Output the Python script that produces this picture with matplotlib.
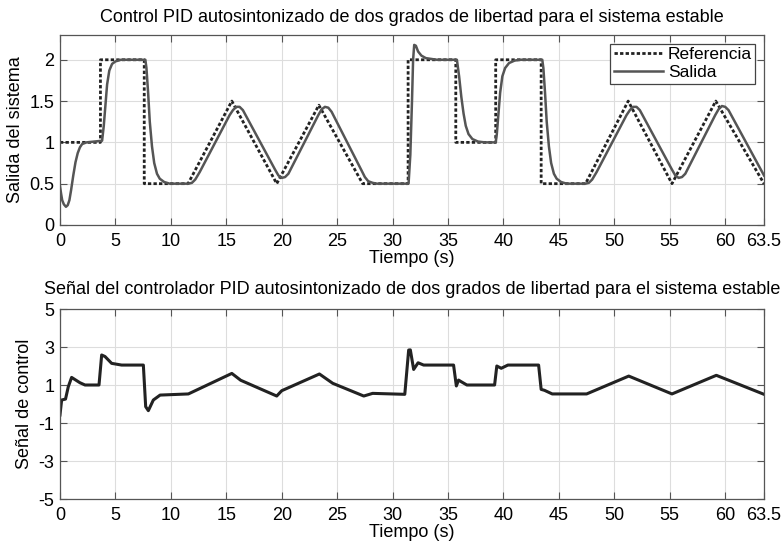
import matplotlib.pyplot as plt

plt.rcParams['font.family'] = ['Liberation Sans', 'DejaVu Sans']
plt.rcParams['axes.unicode_minus'] = False

# referencia (escalones y rampas)
ref_t = [0, 3.65, 3.65, 7.6, 7.6, 11.55, 15.5, 19.55, 23.35, 27.3, 31.4, 31.4,
         35.7, 35.7, 39.3, 39.3, 43.4, 43.4, 47.4, 51.25, 55.2, 59.15, 63.5]
ref_y = [1, 1, 2, 2, 0.5, 0.5, 1.5, 0.5, 1.45, 0.5, 0.5, 2,
         2, 1, 1, 2, 2, 0.5, 0.5, 1.5, 0.5, 1.5, 0.5]

# salida del sistema
out_t = [0, 0.1, 0.2, 0.35, 0.54, 0.7, 0.85, 1.0, 1.2, 1.4, 1.6, 1.8, 2.0, 2.4,
         3.8, 3.95, 4.1, 4.25, 4.45, 4.7, 5.0, 5.5,
         7.7, 7.8, 7.95, 8.1, 8.3, 8.5, 8.75, 9.0, 9.4, 9.9,
         11.6, 11.9, 12.2, 12.6, 15.3, 15.6, 15.9, 16.2, 16.5,
         19.4, 19.7, 20.0, 20.3, 20.6, 23.3, 23.6, 23.9, 24.2, 24.5,
         27.2, 27.5, 27.8, 28.2, 28.6,
         31.4, 31.45, 31.6, 31.75, 31.85, 31.95, 32.1, 32.3, 32.6, 33.0, 33.5, 34.0,
         35.8, 35.85, 36.0, 36.2, 36.4, 36.6, 36.85, 37.2, 37.7, 38.3,
         39.3, 39.4, 39.55, 39.7, 39.9, 40.15, 40.5, 41.0, 41.5,
         43.5, 43.6, 43.75, 43.9, 44.1, 44.3, 44.55, 44.8, 45.2, 45.7,
         47.4, 47.7, 48.0, 48.4, 51.1, 51.4, 51.7, 52.0, 52.3,
         55.2, 55.5, 55.8, 56.1, 56.4, 59.1, 59.4, 59.7, 60.0, 60.3, 63.5]
out_y = [0.47, 0.38, 0.3, 0.25, 0.22, 0.24, 0.3, 0.42, 0.6, 0.76, 0.87, 0.94, 0.98, 1.0,
         1.02, 1.2, 1.45, 1.7, 1.87, 1.95, 1.98, 2.0,
         2.0, 1.9, 1.6, 1.25, 0.95, 0.75, 0.62, 0.56, 0.52, 0.5,
         0.5, 0.51, 0.55, 0.64, 1.33, 1.39, 1.43, 1.43, 1.39,
         0.67, 0.6, 0.57, 0.58, 0.62, 1.33, 1.4, 1.43, 1.42, 1.37,
         0.66, 0.58, 0.53, 0.51, 0.5,
         0.5, 0.52, 0.85, 1.5, 2.0, 2.18, 2.17, 2.1, 2.05, 2.02, 2.01, 2.0,
         2.0, 1.95, 1.8, 1.55, 1.35, 1.2, 1.1, 1.04, 1.01, 1.0,
         1.0, 1.1, 1.35, 1.6, 1.8, 1.9, 1.96, 1.99, 2.0,
         2.0, 1.9, 1.6, 1.25, 0.95, 0.75, 0.62, 0.56, 0.52, 0.5,
         0.5, 0.51, 0.55, 0.64, 1.33, 1.39, 1.43, 1.43, 1.39,
         0.67, 0.6, 0.57, 0.58, 0.62, 1.33, 1.4, 1.44, 1.43, 1.39, 0.6]

# señal de control
u_t = [0, 0.15, 0.5, 0.75, 1.05, 1.8, 2.26, 3.52, 3.76, 4.06, 4.66, 5.56, 7.52,
       7.73, 7.97, 8.42, 9.03, 11.58, 15.5, 16.3, 19.55, 20.0, 23.4, 24.6, 27.4,
       28.2, 31.1, 31.45, 31.6, 31.9, 32.3, 32.8, 35.5, 35.75, 35.95, 36.2, 36.7,
       39.2, 39.4, 39.8, 40.4, 43.17, 43.4, 43.7, 44.4, 47.5, 51.3, 55.2, 59.2, 63.5]
u_y = [-0.58, 0.21, 0.26, 0.91, 1.4, 1.12, 1.0, 1.0, 2.58, 2.5, 2.14, 2.05, 2.05,
       -0.14, -0.35, 0.21, 0.47, 0.53, 1.61, 1.25, 0.42, 0.7, 1.58, 1.09, 0.42,
       0.56, 0.51, 2.84, 2.85, 1.82, 2.17, 2.05, 2.05, 0.95, 1.26, 1.17, 1.0,
       1.0, 2.0, 1.88, 2.05, 2.05, 0.77, 0.72, 0.53, 0.53, 1.47, 0.53, 1.51, 0.51]

xticks = [0, 5, 10, 15, 20, 25, 30, 35, 40, 45, 50, 55, 60, 63.5]
xticklabels = ['0', '5', '10', '15', '20', '25', '30', '35', '40', '45', '50', '55', '60', '63.5']

fig = plt.figure(figsize=(7.84, 5.45), dpi=100)
ax1 = fig.add_axes([0.0765, 0.5872, 0.898, 0.3486])
ax2 = fig.add_axes([0.0765, 0.0844, 0.898, 0.3486])


def style(ax):
    ax.set_xlim(0, 63.5)
    ax.set_xticks(xticks)
    ax.set_xticklabels(xticklabels)
    ax.grid(True, color='#dddddd', linewidth=0.8)
    ax.set_axisbelow(True)
    ax.tick_params(direction='in', top=True, right=True, labelsize=13,
                   length=5, color='#555555', pad=4)
    ax.tick_params(axis='x', pad=6)
    for s in ax.spines.values():
        s.set_color('#555555')
        s.set_linewidth(0.9)
    ax.set_xlabel('Tiempo (s)', fontsize=13, labelpad=0)


ax1.plot(ref_t, ref_y, linestyle=(0, (1.2, 0.8)), color='#222222', linewidth=2,
         label='Referencia')
ax1.plot(out_t, out_y, color='#555555', linewidth=1.8, label='Salida')
style(ax1)
ax1.set_ylim(0, 2.3)
ax1.set_yticks([0, 0.5, 1, 1.5, 2])
ax1.set_yticklabels(['0', '0.5', '1', '1.5', '2'])
ax1.set_ylabel('Salida del sistema', fontsize=13, labelpad=4)
ax1.set_title('Control PID autosintonizado de dos grados de libertad para el sistema estable',
              fontsize=13, pad=9)
leg = ax1.legend(loc='upper right', fontsize=12.5, fancybox=False, framealpha=1,
                 edgecolor='#444444', borderpad=0.2, handlelength=2.8,
                 handletextpad=0.3, labelspacing=0.15, borderaxespad=0.5)
leg.get_frame().set_linewidth(0.9)

ax2.plot(u_t, u_y, color='#222222', linewidth=2.2)
style(ax2)
ax2.set_ylim(-5, 5)
ax2.set_yticks([-5, -3, -1, 1, 3, 5])
ax2.set_yticklabels(['-5', '-3', '-1', '1', '3', '5'])
ax2.set_ylabel('Señal de control', fontsize=13, labelpad=4)
ax2.set_title('Señal del controlador PID autosintonizado de dos grados de libertad para el sistema estable',
              fontsize=13, pad=11)

fig.savefig('out.png', dpi=100)
